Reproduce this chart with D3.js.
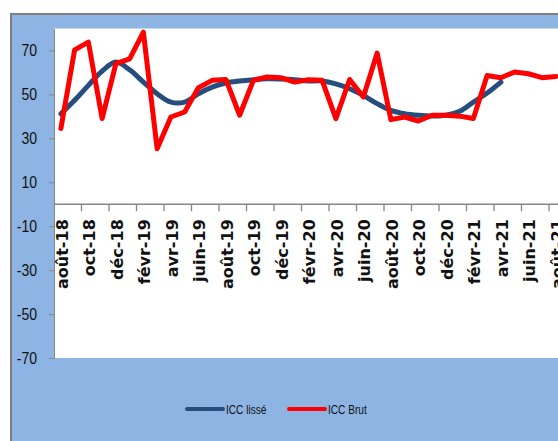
<!DOCTYPE html>
<html>
<head>
<meta charset="utf-8">
<script src="https://cdn.jsdelivr.net/npm/d3@7"></script>
<style>
body { margin: 0; background: #fff; overflow: hidden; }
</style>
</head>
<body>
<script>
const months = ["août-18","sept-18","oct-18","nov-18","déc-18","janv-19","févr-19","mars-19","avr-19","mai-19","juin-19","juil-19",
  "août-19","sept-19","oct-19","nov-19","déc-19","janv-20","févr-20","mars-20","avr-20","mai-20","juin-20","juil-20",
  "août-20","sept-20","oct-20","nov-20","déc-20","janv-21","févr-21","mars-21","avr-21","mai-21","juin-21","juil-21",
  "août-21","sept-21"]
const iccLisse = [41.2, 47.3, 54.1, 60.6, 64.7, 61.2, 55.6, 50.3, 46.5, 46.5, 50.3, 53.3, 55.2, 56.1, 56.7, 57.1, 57,
  56.7, 56.1, 56.1, 54.8, 52.6, 49.5, 45.8, 42.7, 41.2, 40.5, 40.2, 40.5, 42.3, 46.5, 50.6, 55.6]
const iccBrut = [34.5, 70.3, 73.8, 39, 64, 66.2, 78.3, 25.3, 39.7, 42, 53, 56.4, 56.8, 40.5, 56.4, 57.9, 57.6, 55.6,
  56.7, 56.4, 39, 56.8, 48.8, 68.8, 38.5, 39.7, 37.9, 40.5, 40.5, 40.1, 39, 58.6, 57.6, 60.2, 59.4, 57.6, 58.2]
const yTicks = [-70, -50, -30, -10, 10, 30, 50, 70]

let w = 558, h = 441
let padLeft = 54, padTop = 28.5, padBottom = 358
let colW = 13.75

let svg = d3.select("body").append("svg")
    .attr("width", w)
    .attr("height", h)

// blue frame
svg.append("rect")
    .attr("x", 11).attr("y", 14)
    .attr("width", 620).attr("height", 500)
    .attr("fill", "#8db4e2")
    .attr("stroke", "#7f7f7f")
    .attr("stroke-width", 2)

let xScale = d3.scaleBand()
    .domain(months)
    .range([padLeft, padLeft + months.length*colW])
let yScale = d3.scaleLinear()
    .domain([-70, 80])
    .range([padBottom, padTop])

svg.append("rect")
    .attr("x", padLeft).attr("y", padTop)
    .attr("width", months.length*colW).attr("height", padBottom-padTop)
    .attr("fill", "#fff")

// y axis
let yAxis = d3.axisLeft(yScale).tickValues(yTicks).tickSize(5).tickSizeOuter(0).tickPadding(0)
    .tickFormat(d=>String(d))
let gy = svg.append("g")
    .attr("transform", `translate(${padLeft},0)`)
    .call(yAxis)
gy.select(".domain").attr("stroke", "#868686")
gy.selectAll(".tick line").attr("stroke", "#868686")
gy.selectAll(".tick text")
    .attr("x", null)
    .attr("transform", "translate(-17,0) scale(0.85,1)")
    .attr("font-family", "'Liberation Sans', sans-serif")
    .attr("font-size", 16.5)
    .attr("fill", "#111")

// x axis at zero
let y0 = yScale(0)
svg.append("line")
    .attr("x1", padLeft).attr("x2", padLeft + months.length*colW)
    .attr("y1", y0).attr("y2", y0)
    .attr("stroke", "#868686").attr("stroke-width", 1.3)
let even = months.filter((m,i)=>i%2==0)
svg.selectAll(".xtick")
    .data(even.slice(1))
    .enter().append("line")
    .attr("x1", d=>xScale(d)).attr("x2", d=>xScale(d))
    .attr("y1", y0).attr("y2", y0+7)
    .attr("stroke", "#868686").attr("stroke-width", 1.3)
svg.selectAll(".xlab")
    .data(even)
    .enter().append("text")
    .attr("transform", d=>`translate(${xScale(d)+xScale.bandwidth()/2+1.5},${y0+15}) rotate(-90)`)
    .attr("text-anchor", "end")
    .attr("dy", "0.35em")
    .attr("font-family", "'DejaVu Sans', sans-serif")
    .attr("font-weight", "bold")
    .attr("font-size", 16)
    .attr("fill", "#111")
    .text(d=>d)

let cx = i=>xScale(months[i]) + xScale.bandwidth()/2

svg.append("clipPath").attr("id", "clip")
    .append("rect").attr("x", padLeft).attr("y", padTop-5).attr("width", 700).attr("height", padBottom-padTop+10)
let plot = svg.append("g").attr("clip-path", "url(#clip)")

plot.append("path")
    .datum(iccLisse)
    .attr("d", d3.line().x((d,i)=>cx(i)).y(d=>yScale(d)).curve(d3.curveCatmullRom))
    .attr("fill", "none")
    .attr("stroke", "#254e7e")
    .attr("stroke-width", 5)
    .attr("stroke-linecap", "round")
plot.append("path")
    .datum(iccBrut)
    .attr("d", d3.line().x((d,i)=>cx(i)).y(d=>yScale(d)))
    .attr("fill", "none")
    .attr("stroke", "#ff0000")
    .attr("stroke-width", 5)
    .attr("stroke-linejoin", "round")
    .attr("stroke-linecap", "round")

// legend
let legend = [["ICC lissé", "#254e7e", 187], ["ICC Brut", "#ff0000", 289]]
let lg = svg.selectAll(".leg").data(legend).enter().append("g")
lg.append("line")
    .attr("x1", d=>d[2]).attr("x2", d=>d[2]+36)
    .attr("y1", 409).attr("y2", 409)
    .attr("stroke", d=>d[1]).attr("stroke-width", 4).attr("stroke-linecap", "round")
lg.append("text")
    .attr("transform", d=>`translate(${d[2]+39},413.5) scale(0.78,1)`)
    .attr("font-family", "'Liberation Sans', sans-serif")
    .attr("font-size", 13)
    .attr("fill", "#111")
    .text(d=>d[0])
</script>
</body>
</html>
